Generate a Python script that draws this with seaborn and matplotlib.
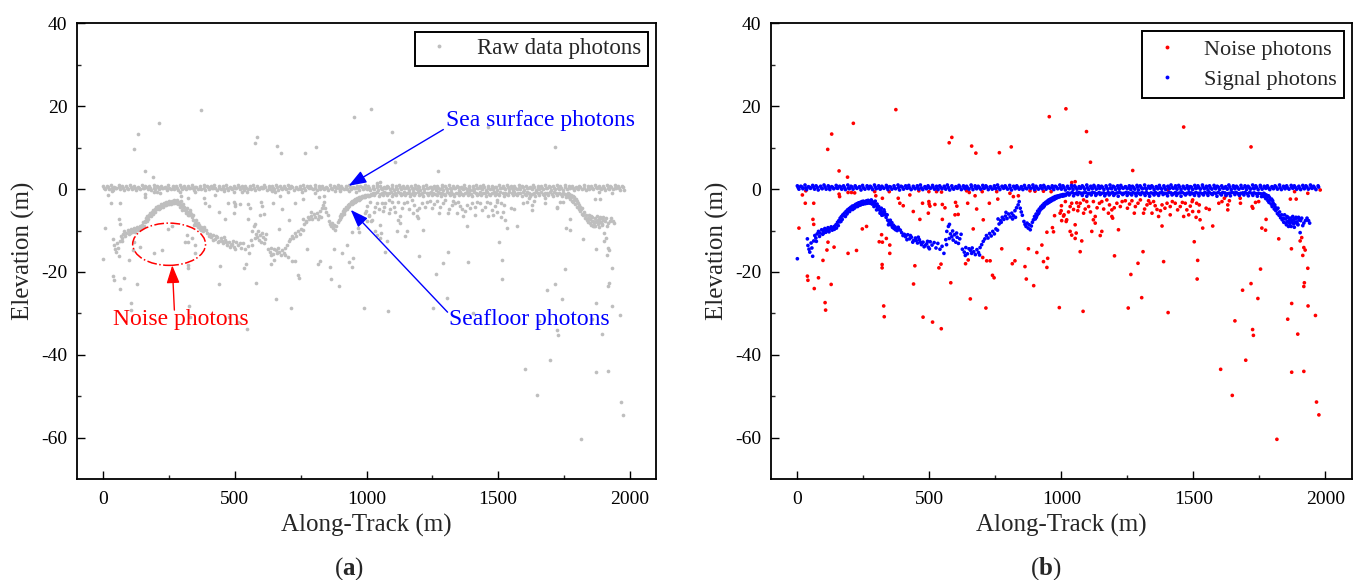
import matplotlib
matplotlib.use("Agg")
import matplotlib.pyplot as plt
from matplotlib.lines import Line2D
from matplotlib.patches import Ellipse
import pandas as pd
import seaborn as sns

# sea surface photons, three interleaved rows along the track
surface_x_a = [0, 13, 29, 42, 58, 71, 88, 101, 117, 130, 147, 160, 175, 191, 203, 219, 235, 247, 264, 276,
               292, 308, 320, 337, 349, 366, 381, 393, 410, 422, 439, 454, 466, 483, 495, 512, 527, 539, 556, 568,
               585, 600, 612, 629, 641, 658, 673, 685, 702, 714, 731, 746, 758, 775, 787, 804, 819, 831, 848, 860,
               877, 892, 904, 921, 933, 950, 965, 977, 994, 1006, 1023, 1038, 1050, 1067, 1079, 1096, 1111, 1123,
               1140, 1152, 1169, 1184, 1196, 1213, 1225, 1242, 1257, 1269, 1286, 1298, 1315, 1330, 1342, 1359,
               1371, 1388, 1403, 1415, 1432, 1444, 1461, 1476, 1488, 1505, 1517, 1534, 1549, 1561, 1578, 1590,
               1607, 1622, 1634, 1651, 1663, 1680, 1695, 1707, 1724, 1736, 1753, 1768, 1780, 1797, 1809, 1826,
               1841, 1853, 1870, 1882, 1899, 1914, 1926, 1943, 1955, 1972]
surface_y_a = [0.8, 0.7, 1.0, 0.6, 0.9, 0.8, 0.7, 1.0, 0.8, 0.6, 0.9, 0.7, 0.8, 1.0, 0.7, 0.8, 0.6, 0.9, 0.8, 0.7,
               1.0, 0.8, 0.7, 0.9, 0.6, 0.8, 1.0, 0.7, 0.8, 0.9, 0.7, 0.8, 1.0, 0.6, 0.8, 0.9, 0.7, 0.8, 0.7, 1.0,
               0.8, 0.6, 0.9, 0.8, 0.7, 1.0, 0.8, 0.7, 0.9, 0.8, 0.6, 0.8, 1.0, 0.7, 0.8, 0.9, 0.7, 0.8, 0.6, 0.9,
               0.8, 1.0, 0.7, 0.8, 0.9, 0.6, 0.8, 0.7, 1.0, 0.8, 0.7, 0.9, 0.8, 0.6, 0.8, 1.0, 0.7, 0.9, 0.8, 0.7,
               0.8, 1.0, 0.7, 0.8, 0.9, 0.6, 0.8, 0.7, 0.9, 0.8, 1.0, 0.7, 0.8, 0.6, 0.9, 0.8, 0.7, 1.0, 0.8, 0.9,
               0.7, 0.8, 0.6, 0.9, 0.8, 1.0, 0.7, 0.8, 0.9, 0.7, 0.8, 0.6, 1.0, 0.8, 0.7, 0.9, 0.8, 0.7, 1.0, 0.8,
               0.9, 0.7, 0.8, 0.6, 0.8, 1.0, 0.7, 0.8, 0.9, 0.8, 0.7, 0.9, 0.8, 1.0, 0.7, 0.8, 0.6, 0.9]
surface_x_b = [6, 21, 35, 50, 65, 79, 94, 109, 123, 138, 153, 168, 182, 197, 211, 226, 241, 256, 270, 285,
               299, 314, 328, 343, 358, 372, 387, 402, 416, 431, 446, 460, 475, 489, 504, 519, 533, 548, 562, 577,
               592, 606, 621, 635, 650, 665, 679, 694, 708, 723, 738, 752, 767, 781, 796, 811, 825, 840, 854, 869,
               884, 898, 913, 927, 942, 957, 971, 986, 1000, 1015, 1030, 1044, 1059, 1073, 1088, 1103, 1117, 1132,
               1146, 1161, 1176, 1190, 1205, 1219, 1234, 1249, 1263, 1278, 1292, 1307, 1322, 1336, 1351, 1365,
               1380, 1395, 1409, 1424, 1438, 1453, 1468, 1482, 1497, 1511, 1526, 1541, 1555, 1570, 1584, 1599,
               1614, 1628, 1643, 1657, 1672, 1687, 1701, 1716, 1730, 1745, 1760, 1774, 1789, 1803, 1818, 1833,
               1847, 1862, 1876, 1891, 1906, 1920, 1935, 1949, 1964]
surface_y_b = [0.0, 0.1, -0.1, 0.2, 0.0, -0.2, 0.1, 0.0, -0.1, 0.1, 0.2, 0.0, -0.1, 0.1, 0.0, 0.2, -0.2, 0.0, 0.1, -0.1,
               0.1, 0.0, 0.2, -0.1, 0.0, 0.1, -0.2, 0.0, 0.2, -0.1, 0.1, 0.0, -0.1, 0.1, 0.2, 0.0, -0.1, 0.1, 0.0, -0.2,
               0.0, 0.2, -0.1, 0.1, 0.0, -0.1, 0.1, 0.0, 0.2, -0.1, 0.0, 0.1, -0.1, 0.2, 0.0, -0.2, 0.1, 0.0, -0.1, 0.1,
               0.2, -0.1, 0.0, 0.1, 0.0, 0.2, -0.1, 0.1, 0.0, -0.2, 0.1, -0.1, 0.0, 0.2, 0.0, -0.1, 0.1, 0.0, 0.2, -0.1,
               0.0, 0.1, -0.1, 0.0, 0.2, 0.1, -0.1, 0.0, -0.2, 0.1, 0.0, 0.2, -0.1, 0.1, 0.0, -0.1, 0.1, 0.2, 0.0, -0.1,
               0.1, 0.0, -0.1, 0.2, 0.0, 0.1, -0.2, 0.0, 0.1, -0.1, 0.2, 0.0, -0.1, 0.1, 0.0, 0.2, -0.1, 0.0, 0.1, -0.1,
               0.0, 0.2, -0.1, 0.1, 0.0, -0.1, 0.1, 0.0, 0.2, 0.0, -0.1, 0.1, 0.0, 0.2, -0.1, 0.1, 0.0, -0.1]
surface_x_c = [3, 18, 32, 47, 61, 76, 91, 105, 120, 134, 149, 164, 178, 193, 207, 222, 237, 251, 266, 280,
               295, 310, 324, 339, 353, 368, 383, 397, 412, 426, 441, 456, 470, 485, 499, 514, 529, 543, 558, 572,
               587, 602, 616, 631, 645, 660, 675, 689, 704, 718, 733, 748, 762, 777, 791, 806, 821, 835, 850, 864,
               879, 894, 908, 923, 937, 952, 967, 981, 996, 1010, 1025, 1040, 1054, 1069, 1083, 1098, 1113, 1127,
               1142, 1156, 1171, 1186, 1200, 1215, 1229, 1244, 1259, 1273, 1288, 1302, 1317, 1332, 1346, 1361,
               1375, 1390, 1405, 1419, 1434, 1448, 1463, 1478, 1492, 1507, 1521, 1536, 1551, 1565, 1580, 1594,
               1609, 1624, 1638, 1653, 1667, 1682, 1697, 1711, 1726, 1740, 1755, 1770, 1784, 1799, 1813, 1828,
               1843, 1857, 1872, 1886, 1901, 1916, 1930, 1945, 1959, 1974]
surface_y_c = [0.4, 0.5, 0.3, 0.4, 0.5, 0.4, 0.3, 0.5, 0.4, 0.4, 0.3, 0.5, 0.4, 0.3, 0.5, 0.4, 0.4, 0.3, 0.5, 0.4,
               0.5, 0.3, 0.4, 0.4, 0.5, 0.3, 0.4, 0.5, 0.4, 0.3, 0.4, 0.5, 0.3, 0.4, 0.4, 0.5, 0.3, 0.4, 0.5, 0.4,
               0.3, 0.4, 0.5, 0.4, 0.3, 0.5, 0.4, 0.4, 0.3, 0.5, 0.4, 0.3, 0.4, 0.5, 0.4, 0.3, 0.5, 0.4, 0.4, 0.3,
               0.5, 0.4, 0.3, 0.4, 0.5, 0.4, 0.3, 0.5, 0.4, 0.4, 0.3, 0.5, 0.4, 0.3, 0.5, 0.4, 0.4, 0.5, 0.3, 0.4,
               0.4, 0.3, 0.5, 0.4, 0.4, 0.5, 0.3, 0.4, 0.5, 0.4, 0.3, 0.4, 0.5, 0.4, 0.3, 0.4, 0.5, 0.4, 0.3, 0.5,
               0.4, 0.4, 0.5, 0.3, 0.4, 0.5, 0.4, 0.3, 0.4, 0.5, 0.4, 0.3, 0.5, 0.4, 0.4, 0.3, 0.5, 0.4, 0.3, 0.4,
               0.5, 0.4, 0.3, 0.4, 0.5, 0.4, 0.4, 0.3, 0.5, 0.4, 0.3, 0.4, 0.5, 0.4, 0.3, 0.5, 0.4, 0.4]

# seafloor photons from the start of the track to the shallow shelf
floor_points = [
    (0, -16.8), (38, -12.0), (40, -13.6), (44, -14.5), (47, -15.2), (52, -13.0), (55, -14.2), (58, -16.2),
    (62, -12.5), (66, -11.2), (70, -11.8), (75, -10.8), (80, -10.2), (86, -10.6), (92, -9.8), (98, -10.0),
    (104, -9.5), (110, -9.8), (116, -9.3), (122, -9.6), (128, -9.1), (134, -9.4), (140, -9.0), (146, -8.6),
    (152, -8.0), (157, -7.6), (162, -7.0), (167, -6.6), (172, -6.2), (178, -5.8), (184, -5.4), (190, -5.0),
    (196, -4.7), (202, -4.4), (208, -4.1), (214, -4.0), (220, -3.7), (226, -3.5), (232, -3.3), (238, -3.2),
    (244, -3.0), (250, -2.9), (256, -3.1), (262, -2.8), (268, -2.7), (274, -2.9), (280, -2.6), (286, -3.1),
    (160, -7.9), (175, -6.4), (190, -5.6), (205, -4.9), (220, -4.3), (235, -3.9), (250, -3.6), (265, -3.4),
    (120, -10.3), (100, -10.6), (140, -9.7),
    (72, -12.6), (84, -11.4), (96, -10.9), (108, -10.4), (118, -10.1), (132, -9.9), (148, -9.4), (155, -8.8),
    (165, -7.8), (170, -7.3), (182, -6.6), (188, -6.0), (198, -5.4), (210, -4.9), (216, -4.6), (228, -4.2),
    (240, -3.8), (246, -3.6), (258, -3.5), (270, -3.3), (276, -3.4), (283, -3.6), (290, -4.2), (295, -2.9),
    (302, -3.6), (308, -4.2), (313, -5.8), (318, -4.6), (328, -5.0), (334, -6.1), (352, -7.5), (358, -8.1),
    (364, -8.7), (370, -9.1), (376, -9.6), (382, -9.2), (395, -10.5), (405, -10.9), (415, -12.2),
    (428, -11.2), (437, -12.8), (450, -12.4), (458, -11.6), (466, -12.8), (480, -13.9), (493, -12.6),
    (500, -14.4),
    (292, -3.5), (298, -4.0), (304, -4.4), (310, -5.0), (316, -5.3), (322, -5.6), (326, -6.2), (330, -5.5),
    (336, -6.8), (342, -7.5), (348, -8.1), (354, -8.6), (360, -9.2), (366, -9.5), (372, -9.8), (378, -10.0),
    (384, -9.6), (390, -9.9), (300, -5.0), (320, -6.3), (340, -6.2), (345, -8.6),
    (400, -11.2), (410, -11.5), (418, -11.0), (425, -12.0), (432, -11.6), (440, -12.4), (447, -11.8),
    (455, -13.0), (462, -12.2), (470, -13.4), (476, -12.8), (484, -13.6), (490, -13.2), (496, -14.0),
    (503, -12.7), (510, -13.5), (518, -12.9), (525, -14.2), (532, -13.1), (540, -14.5), (548, -13.8),
    (555, -15.5), (562, -12.2), (566, -10.2), (572, -9.0), (576, -8.5), (580, -10.8), (585, -11.5),
    (590, -12.3), (595, -11.0), (600, -12.8), (605, -11.6), (610, -13.1), (615, -12.0), (620, -10.9),
    (565, -13.4), (575, -11.9), (588, -10.1), (603, -10.6),
    (625, -14.5), (632, -15.2), (638, -14.1), (644, -15.6), (650, -14.4), (656, -14.8), (662, -14.2),
    (668, -15.1), (674, -15.8), (680, -14.6), (686, -15.3), (692, -14.1), (698, -13.4), (704, -12.6),
    (636, -16.0), (660, -15.5), (690, -15.9),
    (710, -12.0), (716, -11.2), (722, -11.8), (728, -10.7), (734, -11.3), (740, -10.2), (746, -10.8),
    (752, -9.6), (758, -9.9), (764, -8.4), (770, -7.6), (776, -6.8), (782, -7.3), (788, -6.5), (794, -7.1),
    (800, -6.0), (806, -6.7), (812, -5.8), (818, -6.4), (824, -5.2), (830, -4.5), (836, -3.8), (840, -3.0),
    (844, -4.6), (848, -5.5), (852, -6.3), (760, -7.2), (772, -8.0), (790, -5.6), (815, -7.2), (826, -6.8),
    (858, -7.8), (862, -8.5), (866, -9.0), (870, -8.2), (874, -9.4), (878, -8.6), (882, -9.8), (886, -8.9),
    (890, -8.0), (894, -7.4),
    (898, -6.6), (904, -6.0), (910, -5.3), (916, -4.8), (922, -4.3), (928, -3.9), (934, -3.5), (940, -3.2),
    (946, -2.9), (952, -2.6), (958, -2.4), (964, -2.2), (970, -2.0), (976, -1.8), (982, -1.7), (988, -1.6),
    (994, -1.5), (1000, -1.4), (1006, -1.3), (1012, -1.3), (1018, -1.2), (905, -6.8), (915, -5.6),
    (925, -4.7), (935, -4.1), (945, -3.5), (955, -3.1), (965, -2.7), (975, -2.3), (985, -2.0), (995, -1.8),
    (901, -7.2), (908, -6.3), (913, -5.9), (919, -5.1), (931, -4.4), (938, -3.7), (950, -3.3), (960, -2.9),
    (972, -2.5), (980, -2.2), (990, -1.9), (1004, -1.7), (1010, -1.6), (1016, -1.5),
]

# shallow shelf photons just below the surface, two rows
shallow_x = [1024, 1033, 1041, 1050, 1058, 1067, 1075, 1084, 1092, 1101, 1109, 1118, 1126, 1135, 1143, 1152,
             1160, 1169, 1177, 1186, 1194, 1203, 1211, 1220, 1228, 1237, 1245, 1254, 1262, 1271, 1279, 1288,
             1296, 1305, 1313, 1322, 1330, 1339, 1347, 1356, 1364, 1373, 1381, 1390, 1398, 1407, 1415, 1424,
             1432, 1441, 1449, 1458, 1466, 1475, 1483, 1492, 1500, 1509, 1517, 1526, 1534, 1543, 1551, 1560,
             1568, 1577, 1585, 1594, 1602, 1611, 1619, 1628, 1636, 1645, 1653, 1662, 1670, 1679, 1687, 1696,
             1704, 1713, 1721, 1730, 1738, 1747, 1755]
shallow_y = [-0.9, -1.0, -0.8, -1.1, -0.9, -0.8, -1.0, -0.9, -0.8, -1.1, -1.0, -0.8, -0.9, -1.1, -0.8, -1.0,
             -0.9, -1.1, -0.8, -1.0, -0.8, -1.1, -0.9, -0.8, -1.0, -1.0, -0.8, -0.9, -1.1, -0.8, -1.0, -0.9,
             -1.1, -0.8, -1.0, -0.8, -1.1, -0.9, -1.0, -0.8, -1.1, -0.9, -0.8, -1.0, -1.1, -0.8, -0.9, -1.1,
             -0.8, -1.0, -0.9, -0.8, -1.1, -1.0, -0.8, -0.9, -1.1, -0.8, -1.0, -0.9, -1.1, -0.8, -1.0, -0.8,
             -1.1, -0.9, -1.0, -0.8, -1.1, -0.8, -0.9, -1.1, -1.0, -0.8, -0.9, -0.8, -1.1, -1.0, -0.9, -0.8,
             -1.1, -0.8, -1.0, -0.9, -1.1, -1.0, -1.1]
shallow_x_b = [1029, 1046, 1062, 1079, 1096, 1113, 1130, 1147, 1164, 1181, 1198, 1215, 1232, 1249, 1266, 1283,
               1300, 1317, 1334, 1351, 1368, 1385, 1402, 1419, 1436, 1453, 1470, 1487, 1504, 1521, 1538, 1555,
               1572, 1589, 1606, 1623, 1640, 1657, 1674, 1691, 1708, 1725, 1742, 1758]
shallow_y_b = [-1.4, -1.6, -1.3, -1.5, -1.7, -1.4, -1.5, -1.3, -1.6, -1.4, -1.5, -1.7, -1.3, -1.5, -1.4, -1.6,
               -1.3, -1.5, -1.7, -1.4, -1.5, -1.3, -1.6, -1.4, -1.5, -1.7, -1.4, -1.3, -1.5, -1.6, -1.4, -1.5,
               -1.3, -1.7, -1.4, -1.5, -1.6, -1.3, -1.5, -1.4, -1.6, -1.5, -1.7, -1.8]

# seafloor dropping off at the end of the track
dropoff_points = [
    (1762, -1.4), (1768, -1.8), (1774, -2.3), (1778, -2.0), (1782, -2.8), (1786, -3.2), (1790, -2.6),
    (1794, -3.6), (1798, -4.2), (1802, -3.4), (1806, -4.8), (1812, -5.2), (1818, -5.9), (1824, -6.3),
    (1830, -6.9), (1836, -7.4), (1842, -8.0), (1848, -7.2), (1852, -8.6), (1856, -7.8), (1860, -9.0),
    (1864, -8.2), (1868, -7.0), (1872, -7.6), (1876, -6.6), (1880, -8.4), (1884, -7.2), (1888, -6.8),
    (1892, -7.9), (1896, -8.6), (1900, -7.4), (1904, -10.5), (1910, -7.0), (1918, -8.2), (1930, -7.0),
    (1940, -8.2), (1770, -1.2), (1784, -1.6), (1796, -2.4), (1808, -3.8), (1820, -4.6), (1845, -6.2),
    (1858, -6.8), (1870, -9.0),
    (1766, -1.0), (1776, -1.4), (1788, -2.0), (1800, -2.8), (1810, -4.4), (1816, -4.8), (1826, -5.5),
    (1834, -6.2), (1840, -7.0), (1850, -8.2), (1854, -6.6), (1862, -7.6), (1866, -8.8), (1874, -8.0),
    (1878, -7.4), (1882, -9.2), (1886, -8.0), (1890, -7.0), (1894, -8.4), (1898, -6.8), (1906, -7.6),
    (1914, -8.8), (1924, -7.6), (1936, -7.6),
]

# noise photons scattered above and below the signal
noise_points = [
    (373, 19.2), (212, 15.9), (130, 13.3), (115, 9.6), (158, 4.4), (190, 2.9), (575, 11.2), (585, 12.5),
    (660, 10.4), (676, 8.7), (765, 8.8), (810, 10.2), (954, 17.5), (1017, 19.4), (1095, 13.9), (1110, 6.5),
    (1270, 4.5), (1039, 1.6), (1463, 15.0), (1718, 10.2),
    (19, -1.4), (32, -0.4), (30, -3.4), (62, -3.4), (6, -9.4), (59, -7.3), (62, -8.5), (116, -12.8),
    (139, -14.0), (112, -14.7), (97, -17.2), (158, -1.2), (160, -1.8), (192, -0.8), (205, -0.8), (217, -0.9),
    (224, -14.8), (192, -15.5), (246, -9.6), (262, -9.0), (293, -0.6), (297, -1.6), (322, -2.2), (348, -0.6),
    (319, -11.0), (310, -12.7), (322, -12.8), (337, -11.9), (350, -13.5), (350, -15.5), (382, -2.2),
    (388, -3.4), (401, -4.0), (426, -1.4), (439, -5.4), (464, -7.3), (460, -0.4), (474, -3.4), (496, -5.8),
    (499, -3.6), (321, -18.2), (321, -19.0), (445, -18.5),
    (498, -0.6), (527, -0.6), (546, -0.7), (498, -3.0), (502, -4.1), (521, -3.7), (549, -3.7), (559, -4.5),
    (549, -7.3), (599, -3.2), (604, -4.1), (609, -6.1), (597, -6.2), (641, -0.4), (651, -0.8), (673, -1.6),
    (645, -3.4), (679, -4.8), (700, -0.6), (704, -7.4), (727, -3.4), (755, -0.6), (759, -2.4), (666, -9.6),
    (774, -14.4), (805, -1.0), (818, -1.8), (837, -1.6), (881, -0.4), (900, -0.5), (932, -0.5), (961, -0.6),
    (999, -5.2), (995, -5.8), (974, -6.4), (1008, -6.5), (966, -9.3), (970, -10.3), (945, -10.4),
    (926, -13.5), (907, -15.3), (875, -14.4), (948, -16.7), (702, -16.5), (717, -17.3), (730, -17.3),
    (647, -17.1), (637, -18.0), (544, -18.1), (536, -19.0), (814, -18.0), (824, -17.3), (862, -18.7),
    (932, -17.5), (945, -18.9),
    (1010, -6.2), (1018, -7.8), (1039, -3.4), (1033, -4.2), (1046, -4.9), (1058, -3.3), (1071, -3.4),
    (1065, -4.2), (1084, -2.6), (1096, -3.0), (1103, -4.2), (1121, -3.0), (1128, -6.6), (1144, -3.4),
    (1153, -3.0), (1172, -2.6), (1182, -3.8), (1191, -5.0), (1178, -5.8), (1194, -7.0), (1210, -3.4),
    (1223, -4.2), (1242, -2.8), (1267, -2.8), (1299, -2.6), (1280, -4.2), (1324, -3.8), (1336, -3.4),
    (1349, -3.0), (1362, -4.9), (1381, -3.8), (1400, -3.4), (1412, -4.2), (1431, -3.4), (1450, -4.2),
    (1469, -3.4), (1488, -4.1), (1001, -7.6), (1020, -7.4), (1052, -8.6), (1084, -5.8), (1121, -7.4),
    (1128, -8.2), (1153, -10.2), (1191, -6.6), (1216, -9.8), (1276, -5.8), (1311, -5.8), (1343, -5.8),
    (1368, -6.6), (1412, -6.2), (1463, -6.6), (1482, -6.2), (1033, -10.2), (1056, -10.6), (1039, -11.1),
    (1077, -12.5), (1052, -11.9), (1071, -15.1), (1115, -10.2), (1147, -11.2), (1309, -15.1), (1381, -8.9),
    (1201, -16.1), (1290, -17.9), (1387, -17.5), (1052, 1.8), (1403, -0.2),
    (1000, -4.0), (1015, -3.0), (1027, -5.5), (1062, -5.2), (1090, -4.8), (1110, -5.5), (1135, -4.5),
    (1160, -4.8), (1200, -4.5), (1230, -3.0), (1250, -4.6), (1258, -3.6), (1290, -3.4), (1315, -4.8),
    (1330, -2.8), (1355, -4.0), (1375, -5.2), (1392, -4.6), (1420, -3.0), (1440, -5.0), (1458, -3.2),
    (1475, -5.0), (1495, -3.0),
    (1497, -2.6), (1512, -3.4), (1522, -3.8), (1497, -5.4), (1520, -5.4), (1510, -6.8), (1525, -7.4),
    (1548, -4.6), (1560, -4.9), (1535, -9.4), (1573, -8.9), (1503, -12.7), (1516, -17.2), (1596, -3.4),
    (1608, -3.0), (1617, -2.2), (1623, -1.6), (1630, -3.8), (1636, -2.8), (1630, -5.0), (1674, -1.4),
    (1677, -2.2), (1678, -3.4), (1722, -4.2), (1725, -4.6), (1735, -3.2), (1747, -3.0), (1775, -7.3),
    (1759, -9.4), (1773, -9.9), (1823, -12.0), (1871, -14.4), (1904, -12.5), (1910, -11.7), (1918, -14.1),
    (1923, -14.7), (1914, -16.0), (1883, -0.6), (1889, -2.4), (1867, -2.4), (1933, -1.0), (1980, -0.2),
    (1933, -19.1), (1754, -19.3),
    (38, -21.0), (40, -22.0), (64, -24.0), (80, -21.4), (105, -27.4), (107, -29.2), (128, -23.0),
    (327, -28.2), (329, -30.8), (440, -22.9), (476, -30.9), (512, -32.1), (581, -22.6), (545, -33.7),
    (655, -26.5), (714, -28.7), (739, -20.8), (745, -21.4), (867, -21.7), (895, -23.3), (992, -28.6),
    (1082, -29.5), (1263, -20.6), (1253, -28.7), (1304, -26.2), (1404, -29.8), (1514, -21.7), (1603, -43.5),
    (1647, -49.8), (1657, -31.8), (1686, -24.4), (1718, -22.8), (1724, -33.9), (1727, -35.3), (1744, -26.4),
    (1698, -41.3), (1816, -60.4), (1857, -31.4), (1872, -27.6), (1872, -44.2), (1895, -35.0), (1918, -23.5),
    (1920, -22.6), (1918, -44.0), (1934, -28.2), (1962, -30.5), (1966, -51.4), (1975, -54.5),
]

x_ticks = [0, 500, 1000, 1500, 2000]
y_ticks = [-60, -40, -20, 0, 20, 40]

GRAY = "#bebebe"
RED = "#ff0000"
BLUE = "#0000ff"

signal_rows = (list(zip(surface_x_a, surface_y_a)) + list(zip(surface_x_b, surface_y_b))
               + list(zip(surface_x_c, surface_y_c))
               + floor_points + list(zip(shallow_x, shallow_y)) + list(zip(shallow_x_b, shallow_y_b))
               + dropoff_points)
signal = pd.DataFrame(signal_rows, columns=["x", "y"])
signal["kind"] = "Signal photons"
noise = pd.DataFrame(noise_points, columns=["x", "y"])
noise["kind"] = "Noise photons"
photons = pd.concat([noise, signal], ignore_index=True)

sns.set_style("ticks")
plt.rcParams["font.family"] = ["Liberation Serif", "DejaVu Serif"]
plt.rcParams["axes.unicode_minus"] = False
plt.rcParams["mathtext.fontset"] = "custom"
plt.rcParams["mathtext.rm"] = "Liberation Serif"
plt.rcParams["mathtext.bf"] = "Liberation Serif:bold"

fig = plt.figure(figsize=(13.65, 5.8), dpi=100)
ax_a = fig.add_axes([0.0564, 0.174, 0.4242, 0.7855])
ax_b = fig.add_axes([0.5648, 0.174, 0.4256, 0.7855])

sns.scatterplot(data=photons, x="x", y="y", color=GRAY, s=7, linewidth=0, ax=ax_a, legend=False)
sns.scatterplot(data=photons, x="x", y="y", hue="kind", palette={"Noise photons": RED, "Signal photons": BLUE},
                s=7, linewidth=0, ax=ax_b, legend=False)

for ax in (ax_a, ax_b):
    ax.set_xlim(-100, 2100)
    ax.set_ylim(-70, 40)
    ax.set_xticks(x_ticks)
    ax.set_yticks(y_ticks)
    ax.set_xticks([250, 750, 1250, 1750], minor=True)
    ax.set_yticks([-50, -30, -10, 10, 30], minor=True)
    ax.tick_params(which="major", direction="in", length=6, width=1.0, labelsize=14,
                   top=False, right=False, colors="black")
    ax.tick_params(which="minor", direction="in", length=3, width=1.0, top=False, right=False)
    ax.tick_params(axis="x", which="major", pad=8.5)
    ax.tick_params(axis="y", which="major", pad=7)
    for spine in ax.spines.values():
        spine.set_visible(True)
        spine.set_linewidth(1.3)
        spine.set_color("black")
    ax.set_xlabel("Along-Track (m)", fontsize=18, labelpad=4)
    ax.set_ylabel("Elevation (m)", fontsize=18, labelpad=4)


def dot(color):
    return Line2D([], [], marker="o", linestyle="", markersize=2.8, markerfacecolor=color, markeredgewidth=0)


leg_a = ax_a.legend([dot(GRAY)], ["Raw data photons"], loc="upper right", fontsize=16.5, frameon=True,
                    fancybox=False, edgecolor="black", framealpha=1, handlelength=1.5, handletextpad=0.9,
                    borderaxespad=0.35, borderpad=0.3)
leg_a.get_frame().set_linewidth(1.4)
leg_b = ax_b.legend([dot(RED), dot(BLUE)], ["Noise photons", "Signal photons"], loc="upper right", fontsize=16,
                    frameon=True, fancybox=False, edgecolor="black", framealpha=1, handlelength=1.5,
                    handletextpad=0.9, borderaxespad=0.35, borderpad=0.35, labelspacing=0.45)
leg_b.get_frame().set_linewidth(1.4)

# annotations on the raw data panel
arrow_blue = dict(arrowstyle="-|>,head_length=0.6,head_width=0.22", color=BLUE, lw=1.0,
                  mutation_scale=18, shrinkA=0, shrinkB=0)
arrow_red = dict(arrowstyle="-|>,head_length=0.6,head_width=0.22", color=RED, lw=1.0,
                 mutation_scale=18, shrinkA=0, shrinkB=0)
ax_a.annotate("", xy=(932, 0.8), xytext=(1292, 14.4), arrowprops=arrow_blue)
ax_a.text(1303, 16.5, "Sea surface photons", color=BLUE, fontsize=17, ha="left", va="center")
ax_a.annotate("", xy=(940, -5.0), xytext=(1308, -29.7), arrowprops=arrow_blue)
ax_a.text(1315, -31.5, "Seafloor photons", color=BLUE, fontsize=17, ha="left", va="center")
ax_a.add_patch(Ellipse((250, -13.3), width=277, height=10.2, fill=False, edgecolor=RED,
                       linestyle="-.", linewidth=1.1))
ax_a.annotate("", xy=(262, -18.4), xytext=(270, -29.2), arrowprops=arrow_red)
ax_a.text(37, -31.5, "Noise photons", color=RED, fontsize=17, ha="left", va="center")

fig.text(349 / 1365, 1 - 569 / 580, r"$\mathrm{(}\mathbf{a}\mathrm{)}$", fontsize=18, ha="center", va="center")
fig.text(1046 / 1365, 1 - 569 / 580, r"$\mathrm{(}\mathbf{b}\mathrm{)}$", fontsize=18, ha="center", va="center")

fig.savefig("out.png", dpi=100)
plt.close(fig)
